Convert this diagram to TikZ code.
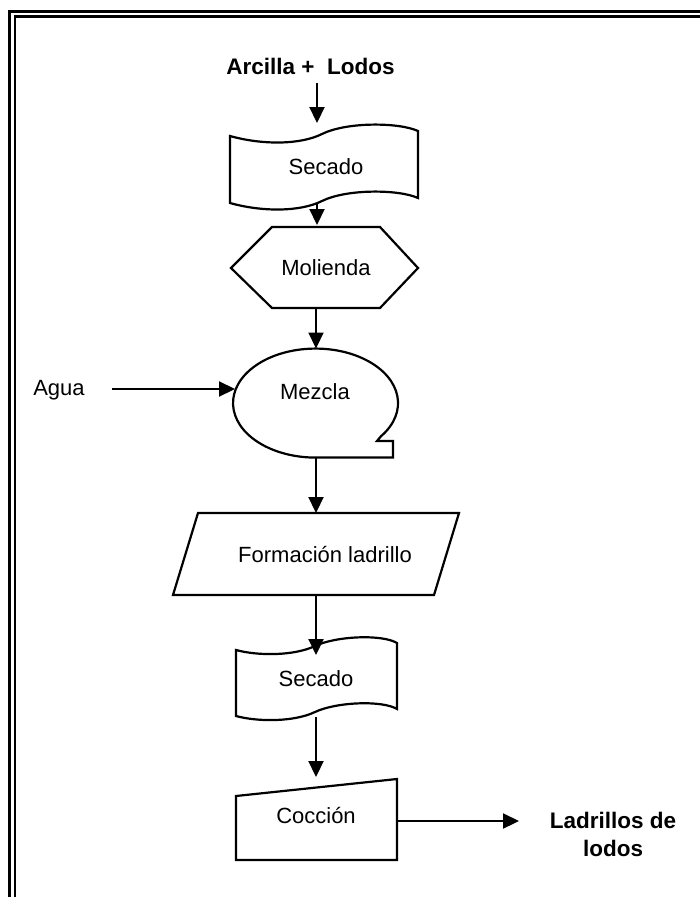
\documentclass[tikz,border=0pt]{standalone}
\usepackage{fontspec}
\setmainfont{Liberation Sans}
\usetikzlibrary{arrows.meta}
\begin{document}
\begin{tikzpicture}[x=1pt,y=-1pt,
  shapeline/.style={line width=2.2pt, line join=miter},
  flow/.style={line width=2.2pt, -{Triangle[length=16pt,width=15pt]}},
  lbl/.style={anchor=base, inner sep=0pt, font=\fontsize{22}{28}\selectfont},
  blbl/.style={lbl, font=\fontsize{22.5}{28}\selectfont\bfseries}]
\useasboundingbox (0,0) rectangle (700,897);

% double frame
\draw[line width=3pt] (9.5,900) -- (9.5,11.3) -- (703,11.3);
\draw[line width=2.5pt] (15,900) -- (15,16.7) -- (703,16.7);

% labels
\node[blbl] (src) at (310.5,74) {Arcilla + \ Lodos};
\node[lbl] (tsec1) at (326,174) {Secado};
\node[lbl] (tmol) at (326,275.7) {Molienda};
\node[lbl] (tmez) at (315,399) {Mezcla};
\node[lbl] (agua) at (59,395) {Agua};
\node[lbl] (tfor) at (325,562.7) {Formación ladrillo};
\node[lbl] (tsec2) at (316,686) {Secado};
\node[lbl] (tcoc) at (316,823.3) {Cocción};
\node[blbl] (lad1) at (613,828.3) {Ladrillos de};
\node[blbl] (lad2) at (613,856.7) {lodos};

% Secado (punched tape)
\draw[shapeline] (230,136) .. controls (262,145) and (300,145) .. (322,134)
  .. controls (346,122) and (398,122) .. (418,131) -- (418,198)
  .. controls (398,189) and (346,189) .. (322,201)
  .. controls (300,212) and (262,212) .. (230,203) -- cycle;

% Molienda (preparation)
\draw[shapeline] (231,268) -- (272,227) -- (380,227) -- (418,268) -- (380,308) -- (272,308) -- cycle;

% Mezcla (sequential storage)
\draw[shapeline] (380.8,436.4) arc[start angle=-37.7, end angle=270, x radius=82.5pt, y radius=54.5pt]
  -- (393,457.5) -- (393,441) -- (377,441) -- cycle;

% Formacion ladrillo (data)
\draw[shapeline] (198,513) -- (459,513) -- (434,595) -- (173,595) -- cycle;

% Secado (punched tape)
\draw[shapeline] (236,650) .. controls (258,656) and (294,656) .. (315,646)
  .. controls (336,636) and (382,634) .. (397,643) -- (397,709)
  .. controls (382,700) and (336,702) .. (315,712)
  .. controls (294,722) and (258,722) .. (236,716) -- cycle;

% Coccion (manual input)
\draw[shapeline] (236,796) -- (397,779) -- (397,860) -- (236,860) -- cycle;

% connector ends
\coordinate (srcout) at (317,83);
\coordinate (sec1in) at (317,123);
\coordinate (sec1out) at (317,203);
\coordinate (molin) at (317,225);
\coordinate (molout) at (316,308);
\coordinate (mezin) at (316,348.5);
\coordinate (mezleft) at (235,389);
\coordinate (aguaout) at (112,389);
\coordinate (mezout) at (316,457.5);
\coordinate (forin) at (316,513);
\coordinate (forout) at (316,595);
\coordinate (sec2in) at (316,655);
\coordinate (sec2out) at (316,717);
\coordinate (cocin) at (316,777);
\coordinate (cocout) at (397,821);
\coordinate (ladin) at (519,821);

\draw[flow] (srcout) -- (sec1in);
\draw[flow] (sec1out) -- (molin);
\draw[flow] (molout) -- (mezin);
\draw[flow] (aguaout) -- (mezleft);
\draw[flow] (mezout) -- (forin);
\draw[flow] (forout) -- (sec2in);
\draw[flow] (sec2out) -- (cocin);
\draw[flow] (cocout) -- (ladin);
\end{tikzpicture}
\end{document}
